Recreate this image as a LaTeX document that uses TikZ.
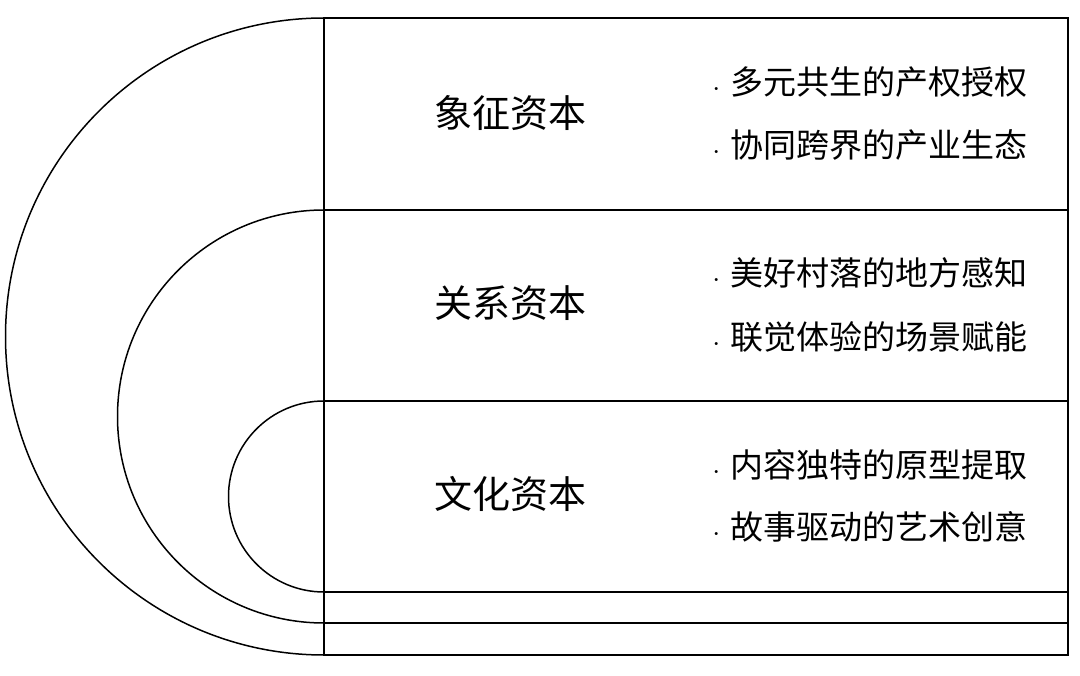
\documentclass[tikz,border=0pt]{standalone}
\usepackage{fontspec}
\newfontfamily\cjk{Noto Sans CJK SC}
\usetikzlibrary{calc}

\begin{document}
\begin{tikzpicture}[x=1pt, y=-1pt, line width=1.5pt,
        capital/.style={font=\cjk\fontsize{38}{40}\selectfont},
        item/.style={anchor=west, font=\cjk\fontsize{33}{36}\selectfont}]
        \useasboundingbox (0,0) rectangle (1080,676);

        % Define Coordinates
        \coordinate (TopLeft) at (324,18);
        \coordinate (TopRight) at (1068,18);
        \coordinate (BottomLeft) at (324,655);
        \coordinate (BottomRight) at (1068,655);

        % Draw Outer Box and Rows
        \draw (TopLeft) rectangle (BottomRight);
        \foreach \y in {210,401,592,623} {
            \draw (324,\y) -- (1068,\y);
        }

        % Draw Half Rings
        \draw (TopLeft) arc (-90:-270:318.5);
        \draw (324,210) arc (-90:-270:206.5);
        \draw (324,401) arc (-90:-270:95.5);

        % Capital Labels
        \node[capital] (symbolic) at (510,113) {象征资本};
        \node[capital] (relational) at (510,303) {关系资本};
        \node[capital] (cultural) at (510,494) {文化资本};

        % Bullet Items
        \node[item] (s1) at (705,82) {{\Large\textbullet}\ 多元共生的产权授权};
        \node[item] (s2) at (705,145) {{\Large\textbullet}\ 协同跨界的产业生态};
        \node[item] (r1) at (705,273) {{\Large\textbullet}\ 美好村落的地方感知};
        \node[item] (r2) at (705,337) {{\Large\textbullet}\ 联觉体验的场景赋能};
        \node[item] (c1) at (705,465) {{\Large\textbullet}\ 内容独特的原型提取};
        \node[item] (c2) at (705,527) {{\Large\textbullet}\ 故事驱动的艺术创意};

    \end{tikzpicture}
\end{document}
